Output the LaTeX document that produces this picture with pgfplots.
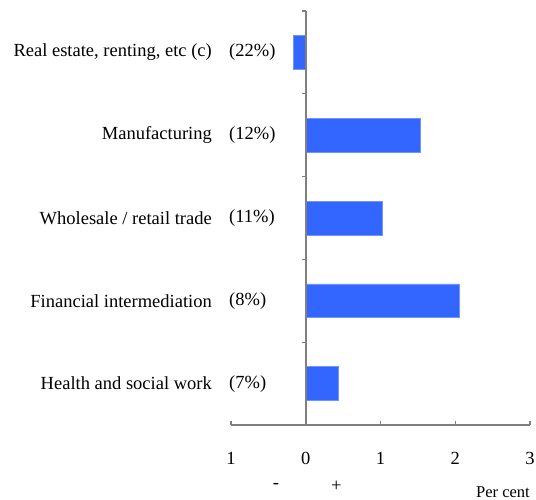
\documentclass[border=0pt]{standalone}
\usepackage{pgfplots}
\pgfplotsset{compat=1.18}
\usepackage{fontspec}
\setmainfont{Liberation Serif}
\definecolor{barblue}{HTML}{3366FF}
\definecolor{axgray}{HTML}{808080}
\begin{document}
\fontsize{18.5}{21}\selectfont
\begin{tikzpicture}
\useasboundingbox (-231pt,-75pt) rectangle (305pt,425pt);
\begin{axis}[
 at={(0pt,0pt)}, anchor=south west,
 scale only axis, width=299pt, height=414pt,
 xmin=-1, xmax=3, ymin=0.5, ymax=5.5,
 axis x line=bottom, axis y line=none,
 axis line style={-, axgray, line width=1.6pt},
 xtick={-1,0,1,2,3}, xticklabels={1,0,1,2,3},
 tick align=inside, major tick length=4pt,
 tick style={axgray, line width=1.2pt},
 xticklabel style={font=\fontsize{18.5}{21}\selectfont, yshift=-21pt},
 ytick=\empty,
 xbar, bar width=0.41,
 clip=false,
]
\addplot[fill=barblue, draw=barblue!70!white, line width=0.6pt] coordinates {(-0.17,5) (1.53,4) (1.02,3) (2.05,2) (0.44,1)};
\draw[axgray, line width=1.6pt] (axis cs:0,0.5) -- (axis cs:0,5.5);
\pgfplotsinvokeforeach{0.5,1.5,2.5,3.5,4.5,5.5}{
  \draw[axgray, line width=1.2pt] (axis cs:0,#1) -- ([xshift=-4pt]axis cs:0,#1);
}
\node[anchor=east, inner sep=0pt, xshift=-19pt] at (axis cs:-1,5) {Real estate, renting, etc (c)};
\node[anchor=east, inner sep=0pt, xshift=-19pt] at (axis cs:-1,4) {Manufacturing};
\node[anchor=east, inner sep=0pt, xshift=-19pt] at (axis cs:-1,3) {Wholesale / retail trade};
\node[anchor=east, inner sep=0pt, xshift=-19pt] at (axis cs:-1,2) {Financial intermediation};
\node[anchor=east, inner sep=0pt, xshift=-19pt] at (axis cs:-1,1) {Health and social work};
\node[anchor=west, inner sep=0pt, xshift=-2pt] at (axis cs:-1,5) {(22\%)};
\node[anchor=west, inner sep=0pt, xshift=-2pt] at (axis cs:-1,4) {(12\%)};
\node[anchor=west, inner sep=0pt, xshift=-2pt] at (axis cs:-1,3) {(11\%)};
\node[anchor=west, inner sep=0pt, xshift=-2pt] at (axis cs:-1,2) {(8\%)};
\node[anchor=west, inner sep=0pt, xshift=-2pt] at (axis cs:-1,1) {(7\%)};
\node[inner sep=0pt, yshift=-61pt] at (axis cs:-0.4,0.5) {-};
\node[inner sep=0pt, yshift=-61pt] at (axis cs:0.41,0.5) {+};
\node[anchor=east, inner sep=0pt, yshift=-67pt, font=\fontsize{16.5}{19}\selectfont] at (axis cs:3,0.5) {Per cent};
\end{axis}
\end{tikzpicture}
\end{document}
